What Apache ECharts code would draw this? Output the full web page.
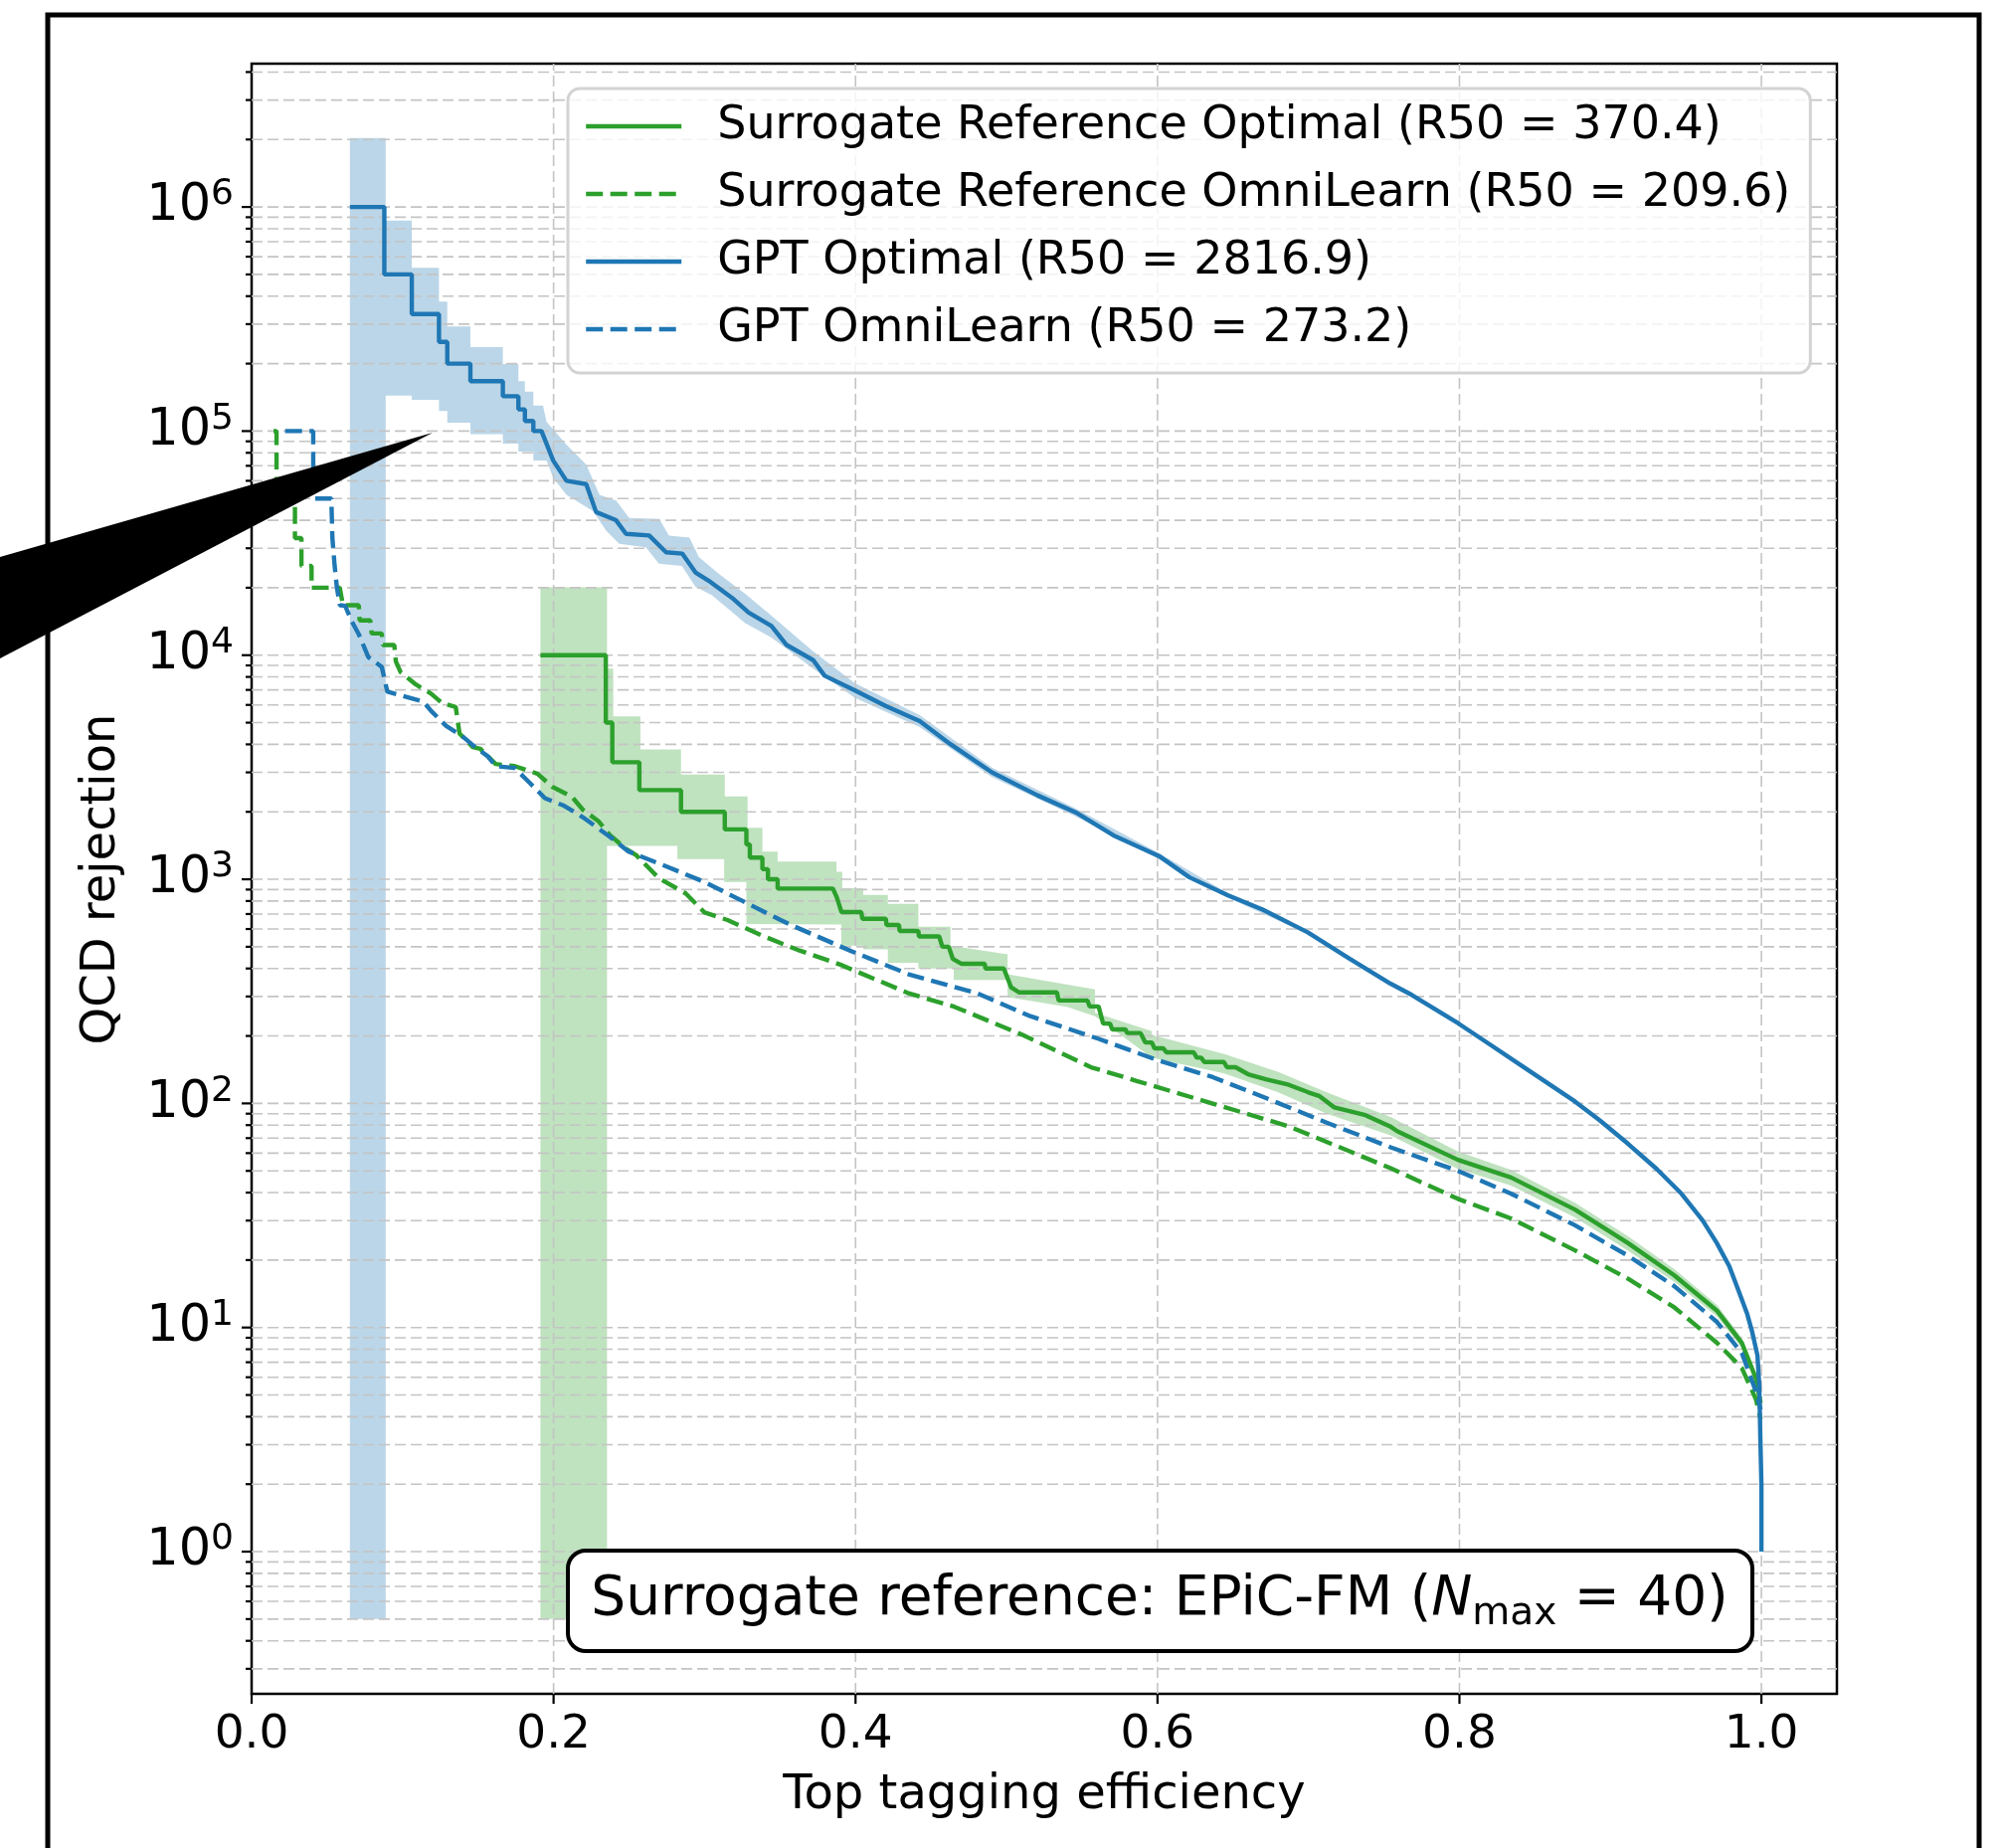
<!DOCTYPE html>
<html>
<head>
<meta charset="utf-8">
<script src="https://cdn.jsdelivr.net/npm/echarts@6/dist/echarts.min.js"></script>
<style>
html,body{margin:0;padding:0;background:#ffffff;}
#chart{width:2012px;height:1858px;}
</style>
</head>
<body>
<div id="chart"></div>
<script>
// ---------------- data ----------------
const seriesNames = [
  'Surrogate Reference Optimal (R50 = 370.4)',
  'Surrogate Reference OmniLearn (R50 = 209.6)',
  'GPT Optimal (R50 = 2816.9)',
  'GPT OmniLearn (R50 = 273.2)'
];
const xTicks = [0, 0.2, 0.4, 0.6, 0.8, 1.0];
const yMajorTicks = [1, 10, 100, 1000, 10000, 100000, 1000000];
const yMinorMantissas = [2, 3, 4, 5, 6, 7, 8, 9];

// Surrogate Reference Optimal (green solid)
const surrOptimal = [[0.1913,1e4],[0.2346,1e4],[0.2346,5e3],[0.2389,5e3],[0.2389,3.33e3],[0.2568,3.33e3],[0.2568,2.5e3],[0.2844,2.5e3],[0.2844,2e3],[0.3134,2e3],[0.3134,1.67e3],[0.3277,1.67e3],[0.3277,1.43e3],[0.33,1.43e3],[0.33,1.25e3],[0.3383,1.25e3],[0.3383,1.11e3],[0.342,1.11e3],[0.342,1e3],[0.3484,1e3],[0.3484,909],[0.385,909],[0.3875,833],[0.3907,714],[0.4038,714],[0.4045,667],[0.4201,667],[0.4205,625],[0.4288,625],[0.4292,588],[0.4416,588],[0.442,556],[0.4554,556],[0.4575,500],[0.4617,500],[0.4645,441],[0.47,420],[0.4856,420],[0.486,400],[0.4982,400],[0.503,330],[0.5083,313],[0.5334,313],[0.5345,288],[0.5536,288],[0.555,271],[0.561,271],[0.564,227],[0.5686,227],[0.57,214],[0.5788,214],[0.58,206],[0.5888,206],[0.592,187],[0.5963,187],[0.598,176],[0.6039,176],[0.606,169],[0.624,169],[0.626,160],[0.629,160],[0.631,153],[0.644,153],[0.646,145],[0.6517,145],[0.66,135],[0.6718,128],[0.687,121],[0.70,112],[0.707,108],[0.7171,96],[0.737,89],[0.754,79],[0.759,75],[0.799,56],[0.8342,46.7],[0.8765,33.6],[0.9117,23.8],[0.9423,17.1],[0.9705,11.9],[0.987,8.55],[0.9963,5.94],[0.9995,4.6]];

// Surrogate Reference OmniLearn (green dashed)
const surrOmni = [[0.0145,1e5],[0.0165,1e5],[0.0165,5e4],[0.0287,5e4],[0.0287,3.33e4],[0.033,3.33e4],[0.033,2.5e4],[0.0397,2.5e4],[0.0397,2e4],[0.0584,2e4],[0.0605,1.67e4],[0.071,1.67e4],[0.0715,1.43e4],[0.0786,1.43e4],[0.0795,1.25e4],[0.0862,1.25e4],[0.087,1.11e4],[0.0945,1.11e4],[0.0955,9.4e3],[0.0987,8.4e3],[0.1088,7.4e3],[0.1188,6.74e3],[0.1264,6.1e3],[0.1352,5.87e3],[0.1377,4.47e3],[0.1465,3.89e3],[0.1515,3.82e3],[0.1616,3.27e3],[0.1742,3.2e3],[0.1893,2.96e3],[0.1994,2.58e3],[0.212,2.34e3],[0.2195,2.04e3],[0.2296,1.82e3],[0.2372,1.58e3],[0.2472,1.38e3],[0.2548,1.28e3],[0.2698,1.01e3],[0.2875,865],[0.3,711],[0.3152,658],[0.3377,562],[0.3629,481],[0.39,416],[0.4352,310],[0.4654,270],[0.5107,202],[0.556,145],[0.5862,126],[0.6366,99.8],[0.687,79],[0.7544,51.4],[0.799,37.5],[0.834,30.7],[0.8765,22.1],[0.9117,16.5],[0.9423,12.3],[0.9705,8.55],[0.987,6.6],[0.9963,4.8],[0.9995,3.9]];

// GPT Optimal (blue solid)
const gptOptimal = [[0.0651,1e6],[0.0879,1e6],[0.0879,5e5],[0.1061,5e5],[0.1061,3.33e5],[0.1241,3.33e5],[0.1241,2.5e5],[0.1296,2.5e5],[0.1296,2e5],[0.1449,2e5],[0.1449,1.67e5],[0.1664,1.67e5],[0.1664,1.43e5],[0.1767,1.43e5],[0.1767,1.25e5],[0.181,1.25e5],[0.181,1.11e5],[0.1866,1.11e5],[0.1866,1e5],[0.192,1e5],[0.1997,7.4e4],[0.2085,6.0e4],[0.2216,5.8e4],[0.2282,4.35e4],[0.2414,4.0e4],[0.248,3.48e4],[0.2633,3.42e4],[0.2745,2.88e4],[0.2852,2.84e4],[0.294,2.34e4],[0.304,2.12e4],[0.3192,1.78e4],[0.3292,1.55e4],[0.3443,1.35e4],[0.3544,1.11e4],[0.372,9.5e3],[0.3795,8.1e3],[0.3997,6.95e3],[0.4199,5.94e3],[0.4425,5.08e3],[0.4626,4.02e3],[0.4903,3.0e3],[0.5205,2.37e3],[0.5457,1.99e3],[0.5709,1.57e3],[0.601,1.27e3],[0.6212,1.02e3],[0.6464,849],[0.6693,735],[0.6995,580],[0.7272,442],[0.7544,342],[0.7684,305],[0.799,228],[0.8203,183],[0.8413,147],[0.8765,102],[0.893,84],[0.9117,66],[0.9306,51],[0.947,39.6],[0.961,30.1],[0.9705,23.8],[0.9787,18.8],[0.9845,14.8],[0.9904,11.6],[0.9939,9.55],[0.9974,7.5],[0.9986,5.5],[0.9993,3.2],[1.0,2.0],[1.0,1.0]];

// GPT OmniLearn (blue dashed)
const gptOmni = [[0.0222,1e5],[0.0408,1e5],[0.0408,5e4],[0.0528,5e4],[0.0535,3.33e4],[0.055,2.5e4],[0.0565,2e4],[0.0585,1.67e4],[0.062,1.66e4],[0.066,1.43e4],[0.071,1.24e4],[0.0773,9.8e3],[0.0862,8.86e3],[0.0899,6.87e3],[0.1138,6.2e3],[0.1188,5.65e3],[0.1289,4.83e3],[0.139,4.38e3],[0.1465,3.97e3],[0.1566,3.53e3],[0.1616,3.2e3],[0.1742,3.14e3],[0.1843,2.69e3],[0.1943,2.3e3],[0.2069,2.13e3],[0.2195,1.89e3],[0.2372,1.55e3],[0.2497,1.33e3],[0.2749,1.14e3],[0.3,972],[0.3252,800],[0.3504,658],[0.3597,615],[0.3975,477],[0.4352,377],[0.4806,310],[0.5158,245],[0.5611,194],[0.5988,157],[0.6366,131],[0.6744,104],[0.7121,82],[0.7544,63.7],[0.799,50],[0.834,39.6],[0.8765,28.6],[0.9117,20.9],[0.9423,15.3],[0.9705,10.6],[0.987,7.7],[0.9963,5.2],[0.9995,4.3]];

// uncertainty bands (upper / lower edges)
const surrBandUpper = [[0.1913,2.01e4],[0.2354,2.01e4],[0.2354,8.7e3],[0.2395,8.7e3],[0.2395,5.33e3],[0.2575,5.33e3],[0.2575,3.8e3],[0.2844,3.8e3],[0.2844,2.93e3],[0.3134,2.93e3],[0.3134,2.34e3],[0.3285,2.34e3],[0.3285,1.7e3],[0.3383,1.7e3],[0.3383,1.33e3],[0.3484,1.33e3],[0.3484,1.2e3],[0.3874,1.2e3],[0.3874,1.08e3],[0.3912,1.08e3],[0.3912,912],[0.4051,912],[0.4051,851],[0.4214,851],[0.4214,778],[0.4416,778],[0.4416,615],[0.4629,615],[0.4629,506],[0.5007,463],[0.5007,377],[0.5586,323],[0.5586,254],[0.5963,210],[0.5963,202],[0.6442,166],[0.68,138],[0.7121,112],[0.7544,87],[0.799,61],[0.8342,50.5],[0.8765,36],[0.9117,25.5],[0.9423,18.2],[0.9705,12.6],[0.987,9.0],[0.9963,6.2]];
const surrBandLower = [[0.1913,0.5],[0.2354,0.5],[0.2354,1.41e3],[0.282,1.41e3],[0.282,1.23e3],[0.313,1.23e3],[0.313,973],[0.3277,973],[0.3277,632],[0.3906,628],[0.3906,506],[0.4051,506],[0.4051,487],[0.4214,487],[0.4214,424],[0.4416,424],[0.4416,400],[0.465,400],[0.465,356],[0.5007,356],[0.5007,298],[0.54,270],[0.5586,245],[0.5963,160],[0.6442,136],[0.68,112],[0.7121,90],[0.7544,72],[0.799,51],[0.8342,43],[0.8765,31],[0.9117,22],[0.9423,16],[0.9705,11.2],[0.987,8.1],[0.9963,5.7]];
const gptBandUpper = [[0.0651,2.03e6],[0.0888,2.03e6],[0.0888,8.7e5],[0.1061,8.7e5],[0.1061,5.35e5],[0.1241,5.35e5],[0.1241,3.78e5],[0.1296,3.78e5],[0.1296,2.93e5],[0.1449,2.93e5],[0.1449,2.37e5],[0.1664,2.37e5],[0.1664,1.99e5],[0.1767,1.99e5],[0.1767,1.67e5],[0.181,1.67e5],[0.181,1.5e5],[0.1866,1.5e5],[0.1866,1.3e5],[0.193,1.3e5],[0.1953,1.1e5],[0.2085,8.7e4],[0.2216,7.1e4],[0.2304,5.2e4],[0.2414,4.9e4],[0.2501,4.1e4],[0.27,4.05e4],[0.2764,3.42e4],[0.29,3.35e4],[0.2962,2.74e4],[0.3093,2.31e4],[0.3269,1.88e4],[0.3443,1.5e4],[0.372,1.04e4],[0.3997,7.5e3],[0.4425,5.4e3],[0.4903,3.15e3],[0.5457,2.07e3],[0.601,1.31e3],[0.6464,870],[0.6995,590],[0.7544,346]];
const gptBandLower = [[0.0651,0.5],[0.0888,0.5],[0.0888,1.44e5],[0.1061,1.44e5],[0.1061,1.38e5],[0.1241,1.38e5],[0.1241,1.23e5],[0.1296,1.23e5],[0.1296,1.09e5],[0.1449,1.09e5],[0.1449,9.7e4],[0.1664,9.7e4],[0.1664,8.8e4],[0.1767,8.8e4],[0.1767,8.1e4],[0.1866,8.1e4],[0.1866,7.4e4],[0.1953,7.4e4],[0.1997,6.2e4],[0.2085,5.2e4],[0.226,4.4e4],[0.2348,3.6e4],[0.2435,3.14e4],[0.2611,3.03e4],[0.2698,2.56e4],[0.285,2.5e4],[0.294,2.02e4],[0.305,1.85e4],[0.3269,1.39e4],[0.3443,1.2e4],[0.372,8.7e3],[0.3997,6.45e3],[0.4425,4.78e3],[0.4903,2.86e3],[0.5457,1.91e3],[0.601,1.23e3],[0.6464,828],[0.6995,570],[0.7544,338]];

// ---------------- styling ----------------
const BLUE = '#1f77b4', GREEN = '#2ca02c';
const FONT = 'DejaVu Sans';
const X_MIN = 0, X_MAX = 1.05, Y_MIN = 0.232, Y_MAX = 4.36e6;
const GRID_COLOR = '#c4c4c4';
const LINE_W = 4.4;
const DASH = [17, 7.5];

const yMinorTicks = [];
for (let e = -1; e <= 6; e++) {
  yMinorMantissas.forEach(m => {
    const v = m * Math.pow(10, e);
    if (v > Y_MIN && v < Y_MAX) yMinorTicks.push(v);
  });
}

function bandSeries(upper, lower, fill) {
  return {
    type: 'custom', z: 1, silent: true, clip: true,
    data: [[0.5, 1]],
    renderItem: function (params, api) {
      const pts = upper.map(p => api.coord(p)).concat(lower.slice().reverse().map(p => api.coord(p)));
      return { type: 'polygon', shape: { points: pts }, style: { fill: fill } };
    }
  };
}
function lineSeries(name, data, color, dashed) {
  return {
    type: 'line', name: name, data: data, z: 3,
    showSymbol: false, symbol: 'none', smooth: false,
    lineStyle: { color: color, width: LINE_W, type: dashed ? DASH : 'solid' },
    itemStyle: { color: color },
    emphasis: { disabled: true }
  };
}

const hGrid = yMajorTicks.concat(yMinorTicks).map(v => [X_MIN, v]);
const vGrid = xTicks.filter(v => v > 0).map(v => [v, Y_MIN]);
const yTickItems = yMajorTicks.map(v => [X_MIN, v, 10]).concat(yMinorTicks.map(v => [X_MIN, v, 6]));
const xTickItems = xTicks.map(v => [v, Y_MIN, 10]);

const chart = echarts.init(document.getElementById('chart'), null, { renderer: 'canvas' });
chart.setOption({
  animation: false,
  backgroundColor: '#ffffff',
  grid: { left: 253, top: 64, right: 165, bottom: 155, show: true, borderColor: '#000', borderWidth: 2.5, backgroundColor: 'transparent' },
  xAxis: {
    type: 'value', min: X_MIN, max: X_MAX, interval: 0.2,
    axisLine: { show: false, onZero: false }, axisTick: { show: false }, splitLine: { show: false },
    axisLabel: {
      margin: 18, fontFamily: FONT, fontSize: 47, color: '#000',
      formatter: v => (v > 1.0001 ? '' : v.toFixed(1))
    }
  },
  yAxis: {
    type: 'log', logBase: 10, min: Y_MIN, max: Y_MAX,
    axisLine: { show: false }, axisTick: { show: false }, splitLine: { show: false },
    axisLabel: {
      margin: 18, fontFamily: FONT, fontSize: 51, color: '#000', lineHeight: 60,
      formatter: function (v) {
        const l = Math.log10(v), e = Math.round(l);
        if (Math.abs(l - e) > 1e-6) return '';
        return '10{sup|' + e + '}';
      },
      rich: { sup: { fontFamily: FONT, fontSize: 36, lineHeight: 36, verticalAlign: 'top', color: '#000' } }
    }
  },
  legend: {
    data: seriesNames, orient: 'vertical', left: 571, top: 89,
    itemWidth: 96, itemHeight: 14, itemGap: 12,
    padding: [10, 20, 16, 16],
    backgroundColor: 'rgba(255,255,255,0.8)', borderColor: '#d3d3d3', borderWidth: 3, borderRadius: 12,
    itemStyle: { opacity: 0, color: 'transparent', borderWidth: 0 },
    lineStyle: { width: LINE_W },
    textStyle: { fontFamily: FONT, fontSize: 46, color: '#000', lineHeight: 56, padding: [0, 0, 0, 31] },
    selectedMode: false
  },
  series: [
    bandSeries(surrBandUpper, surrBandLower, 'rgba(44,160,44,0.3)'),
    bandSeries(gptBandUpper, gptBandLower, 'rgba(31,119,180,0.3)'),
    {
      type: 'custom', z: 2, silent: true, clip: false, data: hGrid,
      renderItem: function (params, api) {
        const p1 = api.coord([X_MIN, api.value(1)]), p2 = api.coord([X_MAX, api.value(1)]);
        return { type: 'line', shape: { x1: p1[0], y1: p1[1], x2: p2[0], y2: p2[1] }, style: { stroke: GRID_COLOR, lineWidth: 1.6, lineDash: [11, 5] } };
      }
    },
    {
      type: 'custom', z: 2, silent: true, clip: false, data: vGrid,
      renderItem: function (params, api) {
        const p1 = api.coord([api.value(0), Y_MIN]), p2 = api.coord([api.value(0), Y_MAX]);
        return { type: 'line', shape: { x1: p1[0], y1: p1[1], x2: p2[0], y2: p2[1] }, style: { stroke: GRID_COLOR, lineWidth: 1.6, lineDash: [11, 5] } };
      }
    },
    {
      type: 'custom', z: 4, silent: true, clip: false, data: yTickItems,
      renderItem: function (params, api) {
        const p = api.coord([X_MIN, api.value(1)]), len = api.value(2);
        return { type: 'line', shape: { x1: p[0] - len, y1: p[1], x2: p[0], y2: p[1] }, style: { stroke: '#000', lineWidth: 2.2 } };
      }
    },
    {
      type: 'custom', z: 4, silent: true, clip: false, data: xTickItems,
      renderItem: function (params, api) {
        const p = api.coord([api.value(0), Y_MIN]), len = api.value(2);
        return { type: 'line', shape: { x1: p[0], y1: p[1], x2: p[0], y2: p[1] + len }, style: { stroke: '#000', lineWidth: 2.2 } };
      }
    },
    lineSeries(seriesNames[0], surrOptimal, GREEN, false),
    lineSeries(seriesNames[1], surrOmni, GREEN, true),
    lineSeries(seriesNames[2], gptOptimal, BLUE, false),
    lineSeries(seriesNames[3], gptOmni, BLUE, true)
  ],
  graphic: [
    { type: 'text', x: 1050, y: 1806, silent: true,
      style: { text: 'Top tagging efficiency', fontFamily: FONT, fontSize: 48, fill: '#000', align: 'center', verticalAlign: 'middle', textAlign: 'center', textVerticalAlign: 'middle' } },
    { type: 'text', x: 103, y: 884, rotation: Math.PI / 2, silent: true,
      style: { text: 'QCD rejection', fontFamily: FONT, fontSize: 48, fill: '#000', align: 'center', verticalAlign: 'middle', textAlign: 'center', textVerticalAlign: 'middle' } },
    { type: 'rect', z: 50, silent: true, shape: { x: 571, y: 1559, width: 1191, height: 101, r: 18 },
      style: { fill: '#ffffff', stroke: '#000', lineWidth: 4 } },
    { type: 'text', z: 51, x: 1166, y: 1609, silent: true,
      style: {
        text: 'Surrogate reference: EPiC-FM ({it|N}{sub|max} = 40)',
        fontFamily: FONT, fontSize: 55, lineHeight: 66, fill: '#000',
        align: 'center', verticalAlign: 'middle', textAlign: 'center', textVerticalAlign: 'middle',
        rich: {
          it: { fontFamily: FONT, fontSize: 55, lineHeight: 66, fontStyle: 'italic', fill: '#000' },
          sub: { fontFamily: FONT, fontSize: 39, lineHeight: 39, verticalAlign: 'bottom', fill: '#000' }
        }
      } },
    { type: 'rect', z: 100, silent: true, shape: { x: 48, y: 15, width: 1942, height: 1900 },
      style: { fill: 'none', stroke: '#000', lineWidth: 5 } },
    { type: 'polygon', z: 101, silent: true, shape: { points: [[0, 560], [0, 662], [435, 435]] },
      style: { fill: '#000' } }
  ]
});
</script>
</body>
</html>
